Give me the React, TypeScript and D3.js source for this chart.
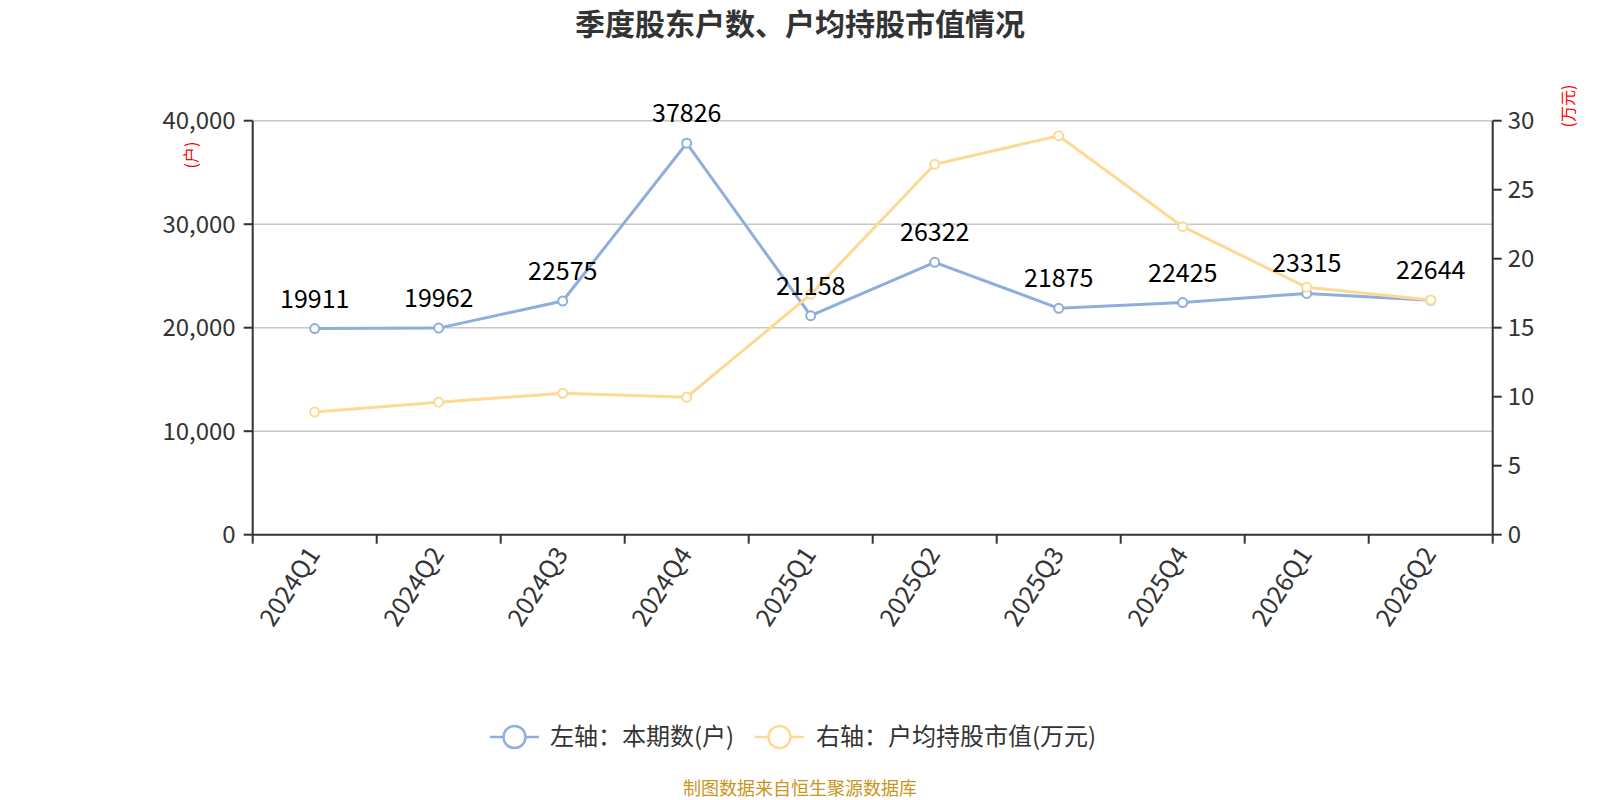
import * as d3 from 'd3';

// 季度股东户数 / 户均持股市值
const quarters = ['2024Q1', '2024Q2', '2024Q3', '2024Q4', '2025Q1', '2025Q2', '2025Q3', '2025Q4', '2026Q1', '2026Q2'];
const holders = [19911, 19962, 22575, 37826, 21158, 26322, 21875, 22425, 23315, 22644];
const avgValue = [8.89, 9.6, 10.25, 9.96, 17.42, 26.84, 28.91, 22.32, 17.93, 17.0];
const leftTicks = [0, 10000, 20000, 30000, 40000];
const rightTicks = [0, 5, 10, 15, 20, 25, 30];

const FONT = '"Noto Sans CJK SC", "Noto Sans", sans-serif';
const BLUE = '#8eaedc';
const YELLOW = '#fdd994';
const AXIS = '#333';

const App = () => {
  const width = 1600;
  const height = 800;
  const left = 252.7;
  const right = 1492.7;
  const top = 120.7;
  const bottom = 534.7;

  const x = d3.scaleBand().domain(quarters).range([left, right]);
  const cx = (q: string) => (x(q) as number) + x.bandwidth() / 2;
  const yL = d3.scaleLinear().domain([0, 40000]).range([bottom, top]);
  const yR = d3.scaleLinear().domain([0, 30]).range([bottom, top]);

  const blueLine = d3.line<number>().x((d, i) => cx(quarters[i])).y((d) => yL(d));
  const yellowLine = d3.line<number>().x((d, i) => cx(quarters[i])).y((d) => yR(d));
  const fmt = d3.format(',');

  const bandEdges = quarters.map((q) => x(q) as number).concat([right]);

  return (
    <div style={{ position: 'absolute', left: 0, top: 0 }}>
      <svg width={width} height={height} style={{ display: 'block', background: '#fff' }} fontFamily={FONT}>
        <text x={800} y={35} textAnchor="middle" fontSize={30} fontWeight="bold" fill="#333">
          季度股东户数、户均持股市值情况
        </text>

        {/* grid */}
        {leftTicks.slice(1).map((t) => (
          <line key={'g' + t} x1={left} x2={right} y1={yL(t)} y2={yL(t)} stroke="#c8c8c8" strokeWidth={1.5} />
        ))}

        {/* left axis */}
        <line x1={left} x2={left} y1={top} y2={bottom} stroke={AXIS} strokeWidth={2} />
        {leftTicks.map((t) => (
          <g key={'l' + t}>
            <line x1={left - 9} x2={left} y1={yL(t)} y2={yL(t)} stroke={AXIS} strokeWidth={2} />
            <text x={left - 17} y={yL(t)} dy="0.35em" textAnchor="end" fontSize={24} fill="#333">
              {fmt(t)}
            </text>
          </g>
        ))}
        <text transform={`translate(191,155) rotate(-90)`} textAnchor="middle" dy="0.35em" fontSize={16} fill="red">
          (户)
        </text>

        {/* right axis */}
        <line x1={right} x2={right} y1={top} y2={bottom} stroke={AXIS} strokeWidth={2} />
        {rightTicks.map((t) => (
          <g key={'r' + t}>
            <line x1={right} x2={right + 9} y1={yR(t)} y2={yR(t)} stroke={AXIS} strokeWidth={2} />
            <text x={right + 15} y={yR(t)} dy="0.35em" textAnchor="start" fontSize={24} fill="#333">
              {t}
            </text>
          </g>
        ))}
        <text transform={`translate(1568,106) rotate(-90)`} textAnchor="middle" dy="0.35em" fontSize={16} fill="red">
          (万元)
        </text>

        {/* bottom axis */}
        <line x1={left} x2={right} y1={bottom} y2={bottom} stroke={AXIS} strokeWidth={2} />
        {bandEdges.map((e, i) => (
          <line key={'t' + i} x1={e} x2={e} y1={bottom} y2={bottom + 9} stroke={AXIS} strokeWidth={2} />
        ))}
        {quarters.map((q) => (
          <text
            key={'x' + q}
            transform={`translate(${cx(q) - 1},${bottom + 15}) rotate(-57)`}
            textAnchor="end"
            dy="0.35em"
            fontSize={25}
            fill="#333"
          >
            {q}
          </text>
        ))}

        {/* series */}
        <path d={blueLine(holders) || ''} fill="none" stroke={BLUE} strokeWidth={3} />
        {holders.map((v, i) => (
          <circle key={'bc' + i} cx={cx(quarters[i])} cy={yL(v)} r={4.5} fill="#fff" stroke={BLUE} strokeWidth={2} />
        ))}
        <path d={yellowLine(avgValue) || ''} fill="none" stroke={YELLOW} strokeWidth={3} />
        {avgValue.map((v, i) => (
          <circle key={'yc' + i} cx={cx(quarters[i])} cy={yR(v)} r={4.5} fill="#fff" stroke={YELLOW} strokeWidth={2} />
        ))}
        {holders.map((v, i) => (
          <text key={'lb' + i} x={cx(quarters[i])} y={yL(v) - 21} textAnchor="middle" fontSize={25} fill="#000">
            {v}
          </text>
        ))}

        {/* legend */}
        <g>
          <line x1={490} x2={539} y1={737} y2={737} stroke={BLUE} strokeWidth={2.5} />
          <circle cx={514.5} cy={737} r={11} fill="#fff" stroke={BLUE} strokeWidth={2.5} />
          <text x={550} y={737} dy="0.35em" fontSize={24} fill="#333">
            左轴：本期数(户)
          </text>
          <line x1={755} x2={804} y1={737} y2={737} stroke={YELLOW} strokeWidth={2.5} />
          <circle cx={779.5} cy={737} r={11} fill="#fff" stroke={YELLOW} strokeWidth={2.5} />
          <text x={816} y={737} dy="0.35em" fontSize={24} fill="#333">
            右轴：户均持股市值(万元)
          </text>
        </g>

        <text x={800} y={795} textAnchor="middle" fontSize={18} fill="#c8961e">
          制图数据来自恒生聚源数据库
        </text>
      </svg>
    </div>
  );
};

export default App;
